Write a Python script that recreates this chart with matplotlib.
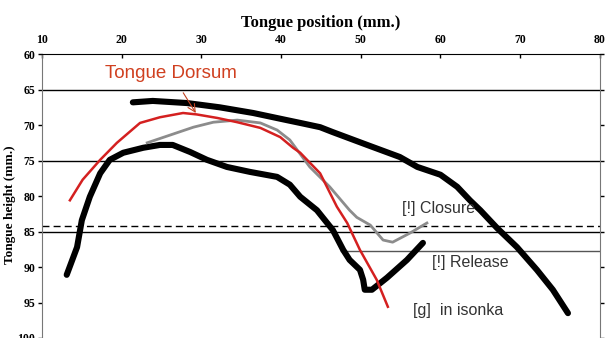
import numpy as np
import matplotlib.pyplot as plt

# tongue contours, position (mm) vs height (mm)
upper_x = [21.4, 23.9, 28.2, 32.3, 36.5, 40.7, 42.4, 44.9, 46.5, 50.8, 54.9, 57.1, 60.0, 62.1, 63.7, 65.0, 67.1, 69.6, 72.1, 74.1, 76.0]
upper_y = [66.8, 66.6, 66.9, 67.5, 68.3, 69.3, 69.7, 70.3, 71.0, 72.8, 74.5, 75.9, 77.0, 78.7, 80.6, 82.0, 84.5, 87.2, 90.4, 93.2, 96.5]

lower_x = [13.1, 14.4, 15.0, 16.0, 17.3, 18.5, 20.2, 22.7, 24.8, 26.4, 28.6, 30.7, 33.2, 36.1, 39.5, 41.1, 42.4, 44.5, 46.5, 47.8,
           48.6, 49.9, 50.3, 50.5, 51.4, 53.3, 55.8, 57.8]
lower_y = [91.1, 87.2, 83.4, 80.1, 76.8, 74.9, 73.9, 73.2, 72.8, 72.8, 73.8, 74.9, 75.9, 76.6, 77.3, 78.4, 80.1, 82.0, 84.8, 87.6,
           89.0, 90.4, 91.8, 93.2, 93.2, 91.5, 89.0, 86.6]

dorsum_x = [13.5, 15.1, 17.3, 19.4, 22.3, 24.8, 27.7, 29.4, 32.0, 34.5, 37.4, 39.9, 41.5, 42.4, 44.9, 47.0, 48.3, 49.9, 52.0, 53.4]
dorsum_y = [80.6, 77.7, 74.9, 72.5, 69.7, 68.9, 68.3, 68.5, 69.0, 69.6, 70.4, 71.7, 73.2, 73.9, 76.8, 81.5, 83.8, 87.6, 91.8, 95.6]

closure_x = [23.2, 26.1, 29.0, 31.5, 34.5, 37.4, 39.5, 41.1, 43.6, 46.1, 48.6, 49.5, 51.2, 52.8, 54.0, 56.2, 58.3]
closure_y = [72.5, 71.4, 70.3, 69.6, 69.3, 69.7, 70.7, 72.1, 75.9, 78.7, 82.0, 83.0, 84.1, 86.2, 86.5, 85.2, 83.8]

x_ticks = [10, 20, 30, 40, 50, 60, 70, 80]
y_ticks = [60, 65, 70, 75, 80, 85, 90, 95, 100]
grid_y = [65, 75, 85]
closure_level = 84.2
release_level = 87.75

fig = plt.figure(figsize=(6.07, 3.38), dpi=100)
ax = fig.add_axes([0.0692, 0.0, 0.919, 0.840])

for gy in grid_y:
    ax.axhline(gy, color='black', lw=1.0, zorder=1)
ax.axhline(closure_level, color='black', lw=1.0, ls=(0, (5, 3)), zorder=1)
ax.plot([47.5, 80], [release_level, release_level], color='#555555', lw=1.0, zorder=1)

ax.plot(upper_x, upper_y, color='black', lw=4.4, solid_capstyle='round', solid_joinstyle='round', zorder=3)
ax.plot(lower_x, lower_y, color='black', lw=4.4, solid_capstyle='round', solid_joinstyle='round', zorder=3)
ax.plot(closure_x, closure_y, color='#8c8c8c', lw=2.0, solid_joinstyle='round', zorder=4)
ax.plot(dorsum_x, dorsum_y, color='#d42020', lw=1.8, solid_joinstyle='round', zorder=5)

ax.set_xlim(10, 80)
ax.set_ylim(100, 60)
ax.xaxis.tick_top()
ax.xaxis.set_label_position('top')
ax.set_xticks(x_ticks)
ax.set_yticks(y_ticks)
ax.tick_params(axis='x', direction='in', length=3, width=1, pad=6)
ax.tick_params(axis='y', direction='out', length=3, width=1, pad=2, right=True)
for lab in ax.get_xticklabels() + ax.get_yticklabels():
    lab.set_fontfamily('Liberation Serif')
    lab.set_fontweight('bold')
    lab.set_fontsize(8.5)

ax.spines['top'].set_color('black')
ax.spines['left'].set_color('#777777')
ax.spines['right'].set_color('#777777')
ax.spines['bottom'].set_visible(False)

ax.set_xlabel('Tongue position (mm.)', family='Liberation Serif', weight='bold', fontsize=12, labelpad=5)
ax.set_ylabel('Tongue height (mm.)', family='Liberation Serif', weight='bold', fontsize=9.5, labelpad=2)
ax.yaxis.set_label_coords(-0.047, 0.47)

ax.annotate('Tongue Dorsum', xy=(29.3, 68.3), xytext=(26.2, 62.7), ha='center', va='center',
            color='#d04020', fontsize=13.5, family='Liberation Sans',
            arrowprops=dict(arrowstyle='->', color='#c04020', lw=0.8, shrinkA=7, shrinkB=0))

note_style = dict(fontsize=11.5, family='Liberation Sans', color='#333333', va='center')
ax.text(55.2, 81.7, '[!] Closure', **note_style)
ax.text(58.9, 89.4, '[!] Release', **note_style)
ax.text(56.5, 96.1, '[g]  in isonka', **note_style)

fig.savefig('out.png', dpi=100)
